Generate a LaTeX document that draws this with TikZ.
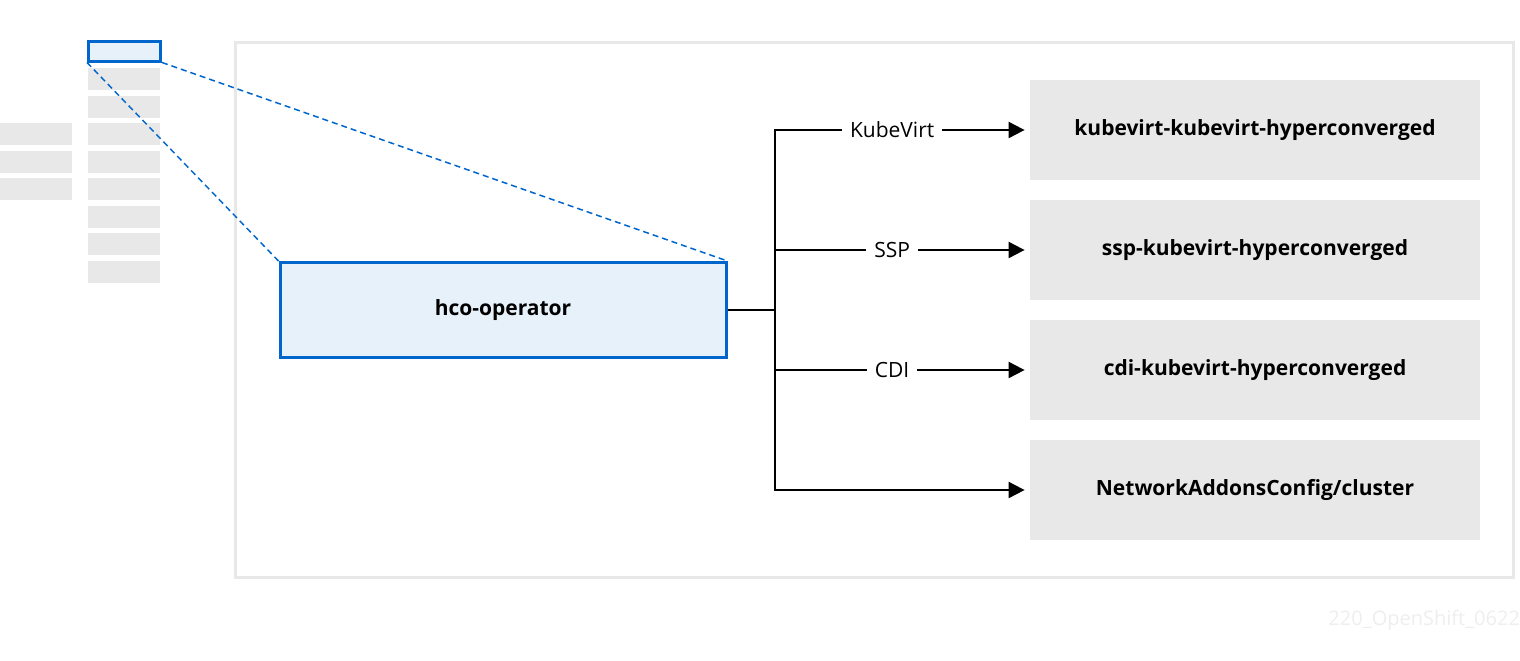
\documentclass[tikz,border=0pt]{standalone}
\usepackage{fontspec}
\setmainfont{Open Sans}
\usetikzlibrary{arrows.meta}
\definecolor{rhblue}{HTML}{0066CC}
\definecolor{rhlight}{HTML}{E7F1FA}
\definecolor{rhgray}{HTML}{E8E8E8}
\definecolor{rhmark}{HTML}{EEEEEE}

\begin{document}
\begin{tikzpicture}[x=0.5pt,y=-0.5pt,
    every node/.style={font=\fontsize{10.5}{12}\selectfont},
    target/.style={fill=rhgray,minimum width=225pt,minimum height=50pt,
      font=\fontsize{10.5}{12}\selectfont\bfseries},
    operator/.style={draw=rhblue,fill=rhlight,line width=1.5pt},
    zoomline/.style={draw=rhblue,line width=0.75pt,dash pattern=on 3pt off 2pt},
    branch/.style={draw,line width=1pt,-{Triangle[length=8pt,width=8pt]},shorten >=2.5pt},
    tag/.style={fill=white,inner sep=4pt}]

    \useasboundingbox (0,0) rectangle (1520,660);

    % list of pods on the left
    \foreach \y in {123,151,178}
      \fill[rhgray] (0,\y) rectangle (72,\y+22);
    \foreach \y in {68,96,123,151,178,206,233,261}
      \fill[rhgray] (88,\y) rectangle (160,\y+22);
    \node[operator,minimum width=36pt,minimum height=10pt,inner sep=0pt] (sel) at (124.5,51) {};

    % cluster frame
    \draw[rhgray,line width=1.5pt] (235,42) rectangle (1513,577);

    \node[operator,minimum width=223pt,minimum height=47.5pt,font=\fontsize{10.5}{12}\selectfont\bfseries]
      (hco) at (503,310) {hco-operator};

    \draw[zoomline] (sel.south west) -- (hco.north west);
    \draw[zoomline] (sel.south east) -- (hco.north east);

    % managed resources
    \node[target] (kv)  at (1255,130) {kubevirt-kubevirt-hyperconverged};
    \node[target] (ssp) at (1255,250) {ssp-kubevirt-hyperconverged};
    \node[target] (cdi) at (1255,370) {cdi-kubevirt-hyperconverged};
    \node[target] (cna) at (1255,490) {NetworkAddonsConfig/cluster};

    \coordinate (fork) at (775,310);
    \draw[line width=1pt] (hco.east) -- (fork);
    \draw[branch] (fork) |- node[tag,pos=0.73] {KubeVirt} (kv.west);
    \draw[branch] (fork) |- node[tag,pos=0.73] {SSP} (ssp.west);
    \draw[branch] (fork) |- node[tag,pos=0.73] {CDI} (cdi.west);
    \draw[branch] (fork) |- (cna.west);

    \node[text=rhmark,anchor=east,font=\fontsize{10}{12}\selectfont] (mark) at (1527,620) {220\_OpenShift\_0622};
\end{tikzpicture}
\end{document}
